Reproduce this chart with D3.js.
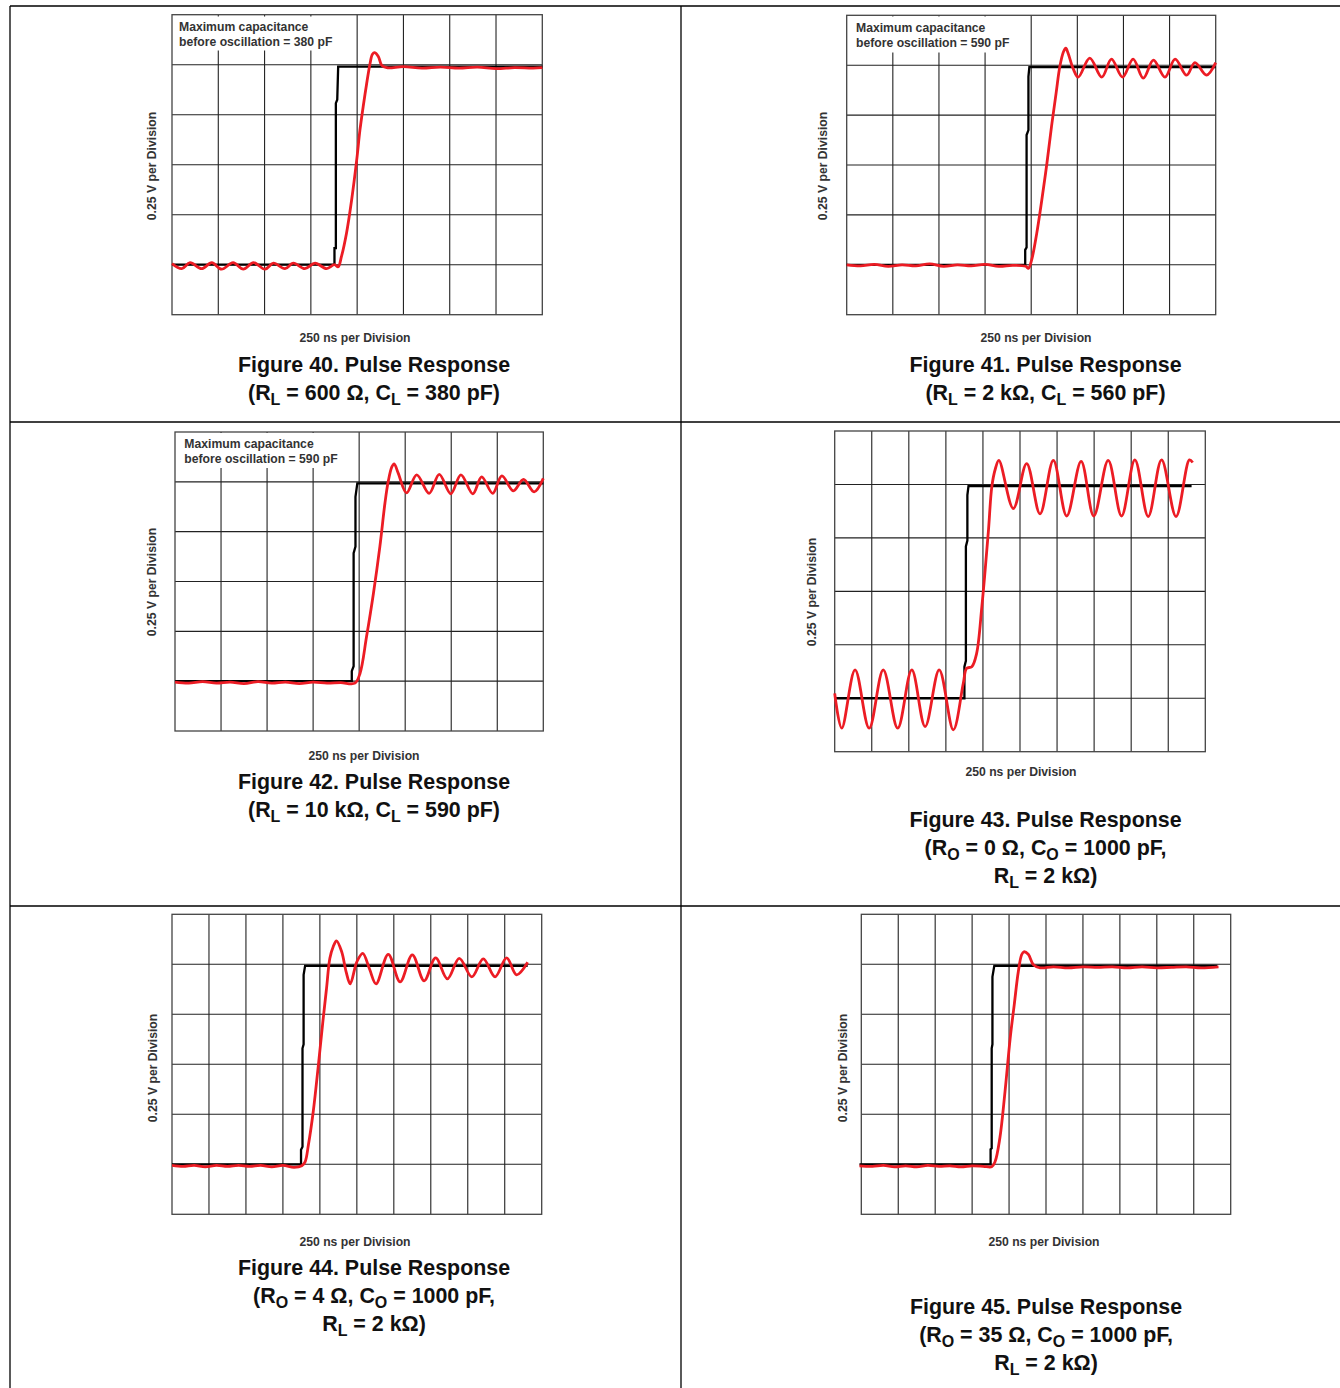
<!DOCTYPE html>
<html lang="en">
<head>
<meta charset="utf-8">
<title>Pulse Response</title>
<script src="https://d3js.org/d3.v7.min.js" charset="utf-8"></script>
<style>
 body { margin: 0; background: #fff; }
 text { font-family: "Liberation Sans", Arial, sans-serif; font-weight: bold; }
</style>
</head>
<body>
<script type="text/javascript">

 // All traces in scope divisions: [time div, voltage div]
 // 250 ns per division, 0.25 V per division

 var fig40Input = [[0,1],[3.51,1],[3.51,1.33],[3.54,1.33],[3.54,4.23],[3.57,4.3],[3.59,4.96],[8,4.96]];
 var fig40Output = [[0,1.02],[0.21,0.92],[0.39,1.04],[0.64,0.92],[0.86,1.04],[1.07,0.91],[1.32,1.04],[1.54,0.91],
		    [1.76,1.04],[2.01,0.91],[2.19,1.03],[2.44,0.92],[2.62,1.03],[2.87,0.92],[3.09,1.03],[3.34,0.92],
		    [3.51,1.0],[3.59,0.96],[3.66,1.16],[3.77,1.63],[3.88,2.29],[3.99,3.09],[4.06,3.69],[4.13,4.16],
		    [4.2,4.59],[4.28,5.03],[4.33,5.21],[4.38,5.24],[4.46,5.16],[4.53,4.99],[4.64,4.94],[5.0,4.96],
		    [5.4,4.93],[5.8,4.95],[6.2,4.93],[6.6,4.95],[7.0,4.92],[7.4,4.94],[7.8,4.93],[8.0,4.94]];

 var fig41Input = [[0,1],[3.87,1],[3.87,1.3],[3.9,1.35],[3.9,3.6],[3.94,3.7],[3.94,4.77],[3.96,4.96],[8,4.96]];
 var fig41Output = [[0,1.0],[0.3,0.98],[0.6,1.01],[0.9,0.97],[1.2,1.0],[1.5,0.98],[1.8,1.02],[2.1,0.97],[2.4,1.0],
		    [2.7,0.98],[3.0,1.01],[3.3,0.97],[3.6,0.99],[3.88,0.97],[3.94,0.93],[4.01,1.1],[4.12,1.63],
		    [4.23,2.3],[4.34,3.03],[4.44,3.77],[4.54,4.44],[4.62,4.97],[4.7,5.27],[4.75,5.34],[4.8,5.24],
		    [4.91,4.93],[5.02,4.76],[5.27,5.14],[5.53,4.76],[5.74,5.12],[5.98,4.76],[6.21,5.12],[6.43,4.74],
		    [6.65,5.1],[6.9,4.76],[7.12,5.12],[7.37,4.8],[7.55,5.05],[7.8,4.8],[8.0,5.05]];

 var fig42Input = [[0,1],[3.84,1],[3.84,1.2],[3.88,1.3],[3.88,3.57],[3.92,3.7],[3.92,4.7],[3.96,4.97],[8,4.97]];
 var fig42Output = [[0,0.98],[0.3,0.96],[0.6,0.99],[0.9,0.96],[1.2,0.98],[1.5,0.95],[1.8,0.99],[2.1,0.96],
		    [2.4,0.98],[2.7,0.95],[3.0,0.98],[3.3,0.96],[3.6,0.97],[3.91,0.96],[4.02,1.16],[4.16,1.89],
		    [4.31,2.76],[4.45,3.7],[4.56,4.57],[4.63,5.0],[4.71,5.3],[4.76,5.36],[4.85,5.17],[5.03,4.78],
		    [5.25,5.14],[5.52,4.77],[5.74,5.15],[5.99,4.76],[6.21,5.14],[6.47,4.76],[6.66,5.1],[6.9,4.77],
		    [7.1,5.12],[7.35,4.82],[7.57,5.05],[7.8,4.8],[8.0,5.07]];

 var fig43Input = [[0,1],[3.5,1],[3.5,1.59],[3.54,1.7],[3.54,3.84],[3.58,3.95],[3.58,4.8],[3.61,4.97],[9.63,4.97]];
 var fig43Output = [[0,1.09],[0.19,0.44],[0.55,1.53],[0.93,0.44],[1.31,1.53],[1.7,0.44],[2.08,1.53],[2.44,0.47],
		    [2.82,1.53],[3.2,0.41],[3.47,1.28],[3.56,1.56],[3.7,1.59],[3.83,1.84],[3.97,2.71],[4.06,3.4],
		    [4.15,4.15],[4.24,4.96],[4.33,5.28],[4.43,5.45],[4.82,4.55],[5.18,5.39],[5.54,4.45],[5.9,5.45],
		    [6.26,4.41],[6.65,5.43],[6.99,4.41],[7.38,5.45],[7.74,4.41],[8.1,5.46],[8.46,4.4],[8.82,5.46],
		    [9.21,4.4],[9.57,5.46],[9.66,5.41]];

 var fig44Input = [[0,1],[3.49,1],[3.49,1.29],[3.53,1.35],[3.53,3.32],[3.56,3.4],[3.56,4.79],[3.6,4.97],[9.62,4.97]];
 var fig44Output = [[0,0.98],[0.3,0.96],[0.6,0.98],[0.9,0.95],[1.2,0.98],[1.5,0.96],[1.8,0.98],[2.1,0.96],
		    [2.4,0.98],[2.7,0.95],[3.0,0.98],[3.3,0.94],[3.51,0.97],[3.6,1.05],[3.69,1.39],[3.82,2.05],
		    [3.96,2.99],[4.08,3.85],[4.18,4.52],[4.27,5.12],[4.36,5.35],[4.45,5.47],[4.59,5.25],[4.71,4.85],
		    [4.82,4.61],[5.0,5.05],[5.16,5.22],[5.34,4.91],[5.52,4.61],[5.85,5.2],[6.17,4.65],[6.5,5.19],
		    [6.82,4.67],[7.13,5.13],[7.45,4.71],[7.77,5.12],[8.11,4.75],[8.42,5.11],[8.74,4.75],[9.05,5.13],
		    [9.32,4.79],[9.62,5.04]];

 var fig45Input = [[-0.05,1],[3.5,1],[3.5,1.3],[3.53,1.32],[3.53,3.32],[3.55,3.4],[3.55,4.75],[3.6,4.97],[9.64,4.97]];
 var fig45Output = [[-0.05,0.97],[0.3,0.96],[0.6,0.98],[0.9,0.95],[1.2,0.97],[1.5,0.95],[1.8,0.98],[2.1,0.96],
		    [2.4,0.97],[2.7,0.95],[3.0,0.97],[3.3,0.96],[3.53,0.95],[3.62,1.05],[3.75,1.52],[3.89,2.45],
		    [4.03,3.52],[4.14,4.19],[4.25,4.85],[4.34,5.19],[4.4,5.25],[4.52,5.2],[4.66,4.99],[4.84,4.93],
		    [5.2,4.95],[5.6,4.93],[6.0,4.95],[6.4,4.94],[6.8,4.95],[7.2,4.93],[7.6,4.95],[8.0,4.93],
		    [8.4,4.94],[8.8,4.95],[9.2,4.93],[9.67,4.95]];

 var figureNumbers = [40, 41, 42, 43, 44, 45];
 var divisionsX = [8, 8, 8, 10, 10, 10];
 var divisionsY = 6;
 var maxCapNotes = ["380 pF", "590 pF", "590 pF", null, null, null];

 // Caption lines, each a list of [text, isSubscript]
 var captions = [
     [[["(R",0],["L",1],[" = 600 \u03A9, C",0],["L",1],[" = 380 pF)",0]]],
     [[["(R",0],["L",1],[" = 2 k\u03A9, C",0],["L",1],[" = 560 pF)",0]]],
     [[["(R",0],["L",1],[" = 10 k\u03A9, C",0],["L",1],[" = 590 pF)",0]]],
     [[["(R",0],["O",1],[" = 0 \u03A9, C",0],["O",1],[" = 1000 pF,",0]], [["R",0],["L",1],[" = 2 k\u03A9)",0]]],
     [[["(R",0],["O",1],[" = 4 \u03A9, C",0],["O",1],[" = 1000 pF,",0]], [["R",0],["L",1],[" = 2 k\u03A9)",0]]],
     [[["(R",0],["O",1],[" = 35 \u03A9, C",0],["O",1],[" = 1000 pF,",0]], [["R",0],["L",1],[" = 2 k\u03A9)",0]]]
 ];

 var inputs = [fig40Input, fig41Input, fig42Input, fig43Input, fig44Input, fig45Input];
 var outputs = [fig40Output, fig41Output, fig42Output, fig43Output, fig44Output, fig45Output];

 //Layout for each panel (pixels)
 var layout = [
     {box:[172, 14.7, 542.3, 314.7], note:[179, 31, 173, 16.5, 172, 34], xl:[355, 342], yl:[152, 166], title:[374, 372]},
     {box:[846.7, 15.3, 1215.7, 314.7], note:[856, 32, 848, 16.5, 170, 36], xl:[1036, 342], yl:[823, 166], title:[1045.5, 372]},
     {box:[175, 432, 543.3, 731], note:[184.3, 448, 176, 433, 172, 35], xl:[364, 760], yl:[152, 582], title:[374, 789]},
     {box:[834.7, 431, 1205.3, 751.7], note:null, xl:[1021, 776], yl:[812, 592], title:[1045.5, 827]},
     {box:[172, 914.3, 541.7, 1214.3], note:null, xl:[355, 1246], yl:[153, 1068], title:[374, 1275]},
     {box:[861.3, 914.3, 1230.7, 1214.3], note:null, xl:[1044, 1246], yl:[843, 1068], title:[1046, 1314]}
 ];

 var smallFont = "12.2px";
 var titleFont = "21.4px";

 var svg = d3.select("body").append("svg")
	     .attr("width", 1340)
	     .attr("height", 1388);

 //Table rules
 var rules = [[10, 6, 1340, 6], [10, 6, 10, 1388], [681, 6, 681, 1388], [10, 422, 1340, 422], [10, 906, 1340, 906]];
 svg.selectAll(".rule")
    .data(rules)
    .enter()
    .append("line")
    .attr("x1", function (d) { return d[0]; })
    .attr("y1", function (d) { return d[1]; })
    .attr("x2", function (d) { return d[2]; })
    .attr("y2", function (d) { return d[3]; })
    .style("stroke", "#000")
    .style("stroke-width", 1.3);

 figureNumbers.forEach(function (num, i) {
     var L = layout[i];
     var g = svg.append("g");
     var nx = divisionsX[i];

     var xScale = d3.scaleLinear().domain([0, nx]).range([L.box[0], L.box[2]]);
     var yScale = d3.scaleLinear().domain([0, divisionsY]).range([L.box[3], L.box[1]]);

     //Grid
     g.selectAll(".vgrid")
      .data(d3.range(1, nx))
      .enter()
      .append("line")
      .attr("x1", function (d) { return xScale(d); })
      .attr("x2", function (d) { return xScale(d); })
      .attr("y1", yScale(0))
      .attr("y2", yScale(divisionsY))
      .style("stroke", "#222")
      .style("stroke-width", 1.1);

     g.selectAll(".hgrid")
      .data(d3.range(1, divisionsY))
      .enter()
      .append("line")
      .attr("x1", xScale(0))
      .attr("x2", xScale(nx))
      .attr("y1", function (d) { return yScale(d); })
      .attr("y2", function (d) { return yScale(d); })
      .style("stroke", "#222")
      .style("stroke-width", 1.1);

     g.append("rect")
      .attr("x", xScale(0))
      .attr("y", yScale(divisionsY))
      .attr("width", xScale(nx) - xScale(0))
      .attr("height", yScale(0) - yScale(divisionsY))
      .style("fill", "none")
      .style("stroke", "#444")
      .style("stroke-width", 1.3);

     //Note box
     if (maxCapNotes[i]) {
	 g.append("rect")
	  .attr("x", L.note[2])
	  .attr("y", L.note[3])
	  .attr("width", L.note[4])
	  .attr("height", L.note[5])
	  .style("fill", "#fff");
	 g.append("text")
	  .attr("x", L.note[0])
	  .attr("y", L.note[1])
	  .attr("font-size", smallFont)
	  .style("fill", "#333")
	  .text("Maximum capacitance");
	 g.append("text")
	  .attr("x", L.note[0])
	  .attr("y", L.note[1] + 14.5)
	  .attr("font-size", smallFont)
	  .style("fill", "#333")
	  .text("before oscillation = " + maxCapNotes[i]);
     }

     //Traces
     var lineIn = d3.line()
		    .x(function (d) { return xScale(d[0]); })
		    .y(function (d) { return yScale(d[1]); });
     var lineOut = d3.line()
		     .curve(d3.curveCatmullRom.alpha(0.5))
		     .x(function (d) { return xScale(d[0]); })
		     .y(function (d) { return yScale(d[1]); });

     g.append("path")
      .attr("d", lineIn(inputs[i]))
      .style("fill", "none")
      .style("stroke", "#000")
      .style("stroke-width", 2.3);

     g.append("path")
      .attr("d", lineOut(outputs[i]))
      .style("fill", "none")
      .style("stroke", "#ec1c24")
      .style("stroke-width", 2.8)
      .style("stroke-linejoin", "round");

     //Axis labels
     g.append("text")
      .attr("x", L.xl[0])
      .attr("y", L.xl[1])
      .attr("text-anchor", "middle")
      .attr("font-size", smallFont)
      .style("fill", "#333")
      .text("250 ns per Division");

     g.append("text")
      .attr("transform", "translate(" + (L.yl[0] + 4) + "," + L.yl[1] + ") rotate(-90)")
      .attr("text-anchor", "middle")
      .attr("font-size", smallFont)
      .style("fill", "#333")
      .text("0.25 V per Division");

     //Caption
     g.append("text")
      .attr("x", L.title[0])
      .attr("y", L.title[1])
      .attr("text-anchor", "middle")
      .attr("font-size", titleFont)
      .style("fill", "#111")
      .text("Figure " + num + ". Pulse Response");

     captions[i].forEach(function (line, k) {
	 var t = g.append("text")
		  .attr("x", L.title[0])
		  .attr("y", L.title[1] + 28 * (k + 1))
		  .attr("text-anchor", "middle")
		  .attr("font-size", titleFont)
		  .style("fill", "#111");
	 var shifted = false;
	 line.forEach(function (seg) {
	     var s = t.append("tspan").text(seg[0]);
	     if (seg[1]) {
		 s.attr("dy", 5).attr("font-size", "16px");
		 shifted = true;
	     } else if (shifted) {
		 s.attr("dy", -5);
		 shifted = false;
	     }
	 });
     });
 });

</script>
</body>
</html>
